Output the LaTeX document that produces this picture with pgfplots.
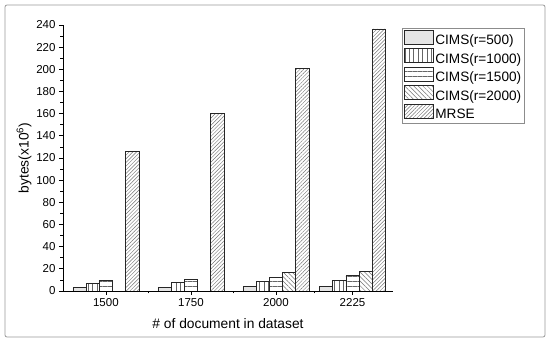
\documentclass[border=0pt]{standalone}
\usepackage{fontspec}
\setmainfont{Liberation Sans}
\usepackage{pgfplots}
\pgfplotsset{compat=1.18}
\usetikzlibrary{patterns,patterns.meta}
\begin{document}
\begin{tikzpicture}[x=1pt,y=1pt]
\useasboundingbox (0,0) rectangle (550,351);
\draw[black!40, line width=0.8pt, rounded corners=2pt] (5,14) rectangle (545,346);
\begin{axis}[
  at={(63pt,60pt)}, anchor=south west,
  scale only axis, width=330pt, height=266pt,
  xmin=1374, xmax=2344, ymin=0, ymax=240,
  axis x line=bottom, axis y line=left,
  axis line style={-, line width=0.7pt},
  ybar=0pt, bar width=38.8,
  xtick={1500,1750,2000,2225},
  minor xtick={1625,1875,2112.5},
  ytick={0,20,...,240},
  minor ytick={10,30,...,230},
  tick align=outside,
  major tick length=4pt, minor tick length=2.5pt,
  tick style={black, line width=0.7pt},
  /pgf/number format/assume math mode=true,
  /pgf/number format/1000 sep={},
  ticklabel style={font=\fontsize{11.5}{13}\selectfont},
  xlabel={\# of document in dataset},
  ylabel={bytes(x10\textsuperscript{6})},
  label style={font=\fontsize{13.8}{16}\selectfont},
  xlabel style={yshift=-5pt},
  ylabel style={yshift=-2pt},
  legend style={at={(1.027,0.989)}, anchor=north west, draw=black!45, line width=0.6pt,
    font=\fontsize{13.6}{15}\selectfont, inner sep=1.5pt, row sep=0pt,
    cells={anchor=west}},
  legend image code/.code={\draw[#1] (0pt,-3.5pt) rectangle (29pt,10.5pt);},
  every axis plot/.append style={draw=black!85, line width=0.7pt},
]
\addplot[fill=black!10] coordinates {(1500,3.0) (1750,3.3) (2000,4.0) (2225,4.5)};
\addlegendentry{CIMS(r=500)}
\addplot[pattern={Lines[angle=90,distance=4.4pt,line width=0.5pt]}, pattern color=black!60] coordinates {(1500,6.6) (1750,7.5) (2000,8.3) (2225,9.3)};
\addlegendentry{CIMS(r=1000)}
\addplot[pattern={Lines[angle=0,distance=5pt,line width=0.5pt]}, pattern color=black!60] coordinates {(1500,9.3) (1750,10.5) (2000,12.3) (2225,13.7)};
\addlegendentry{CIMS(r=1500)}
\addplot[pattern={Lines[angle=-45,distance=3.2pt,line width=0.5pt]}, pattern color=black!55] coordinates {(2000,16.7) (2225,17.6)};
\addlegendentry{CIMS(r=2000)}
\addplot[pattern={Lines[angle=45,distance=2.6pt,line width=0.45pt]}, pattern color=black!55] coordinates {(1500,126) (1750,160) (2000,200.5) (2225,236.5)};
\addlegendentry{MRSE}
\end{axis}
\end{tikzpicture}
\end{document}
